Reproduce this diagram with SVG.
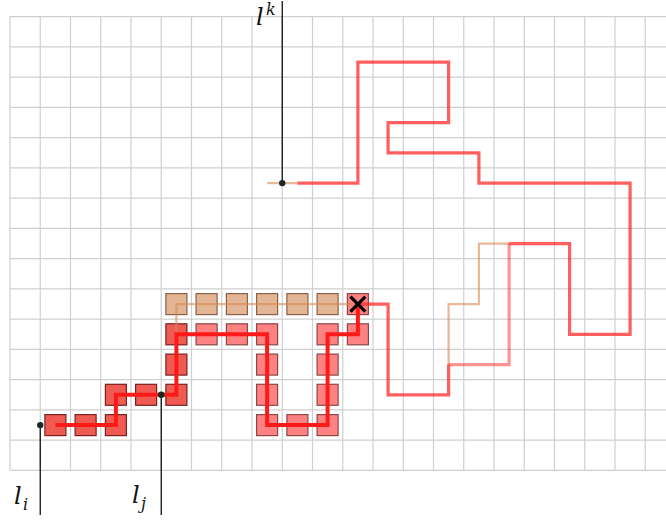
<svg xmlns="http://www.w3.org/2000/svg" width="666" height="523" viewBox="0 0 666 523">
<style>
.grid{stroke:#cfcfcf;stroke-width:1.2;fill:none}
.sq{stroke-width:1.2}
.dark{fill:#ee5b52;stroke:#7a2020}
.pink{fill:#ff8282;stroke:#8c4646}
.tan{fill:#e2b595;stroke:#8a6048}
.red{fill:none;stroke:#ff1a1a;stroke-width:4;stroke-linejoin:miter}
.kred{fill:none;stroke:#ff2a2a;stroke-opacity:0.75;stroke-width:3.2}
.klight{fill:none;stroke:#ff2a2a;stroke-opacity:0.5;stroke-width:3.2}
.orange{fill:none;stroke:#d98a55;stroke-opacity:0.6;stroke-width:2.2}
.lbl{font-family:"DejaVu Serif","Liberation Serif",serif;font-style:italic;fill:#111}
.ptr{stroke:#111;stroke-width:1.3}
</style>
<defs>
<rect id="s" x="-10.5" y="-10.5" width="21" height="21"/>
</defs>
<rect width="666" height="523" fill="#fff"/>
<g id="grid" class="grid">
<path d="M10,16.7V470.45M40.25,16.7V470.45M70.5,16.7V470.45M100.75,16.7V470.45M131,16.7V470.45M161.25,16.7V470.45M191.5,16.7V470.45M221.75,16.7V470.45M252,16.7V470.45M282.25,16.7V470.45M312.5,16.7V470.45M342.75,16.7V470.45M373,16.7V470.45M403.25,16.7V470.45M433.5,16.7V470.45M463.75,16.7V470.45M494,16.7V470.45M524.25,16.7V470.45M554.5,16.7V470.45M584.75,16.7V470.45M615,16.7V470.45M645.25,16.7V470.45"/>
<path d="M10,16.7H666M10,46.95H666M10,77.2H666M10,107.45H666M10,137.7H666M10,167.95H666M10,198.2H666M10,228.45H666M10,258.7H666M10,288.95H666M10,319.2H666M10,349.45H666M10,379.7H666M10,409.95H666M10,440.2H666M10,470.45H666"/>
</g>
<g id="squares-dark" class="sq dark">
<use href="#s" x="55.4" y="425.1"/>
<use href="#s" x="85.6" y="425.1"/>
<use href="#s" x="115.9" y="425.1"/>
<use href="#s" x="115.9" y="394.8"/>
<use href="#s" x="146.1" y="394.8"/>
<use href="#s" x="176.4" y="394.8"/>
<use href="#s" x="176.4" y="364.6"/>
<use href="#s" x="176.4" y="334.3"/>
</g>
<g id="squares-pink" class="sq pink">
<use href="#s" x="206.6" y="334.3"/>
<use href="#s" x="236.9" y="334.3"/>
<use href="#s" x="267.1" y="334.3"/>
<use href="#s" x="267.1" y="364.6"/>
<use href="#s" x="267.1" y="394.8"/>
<use href="#s" x="267.1" y="425.1"/>
<use href="#s" x="297.4" y="425.1"/>
<use href="#s" x="327.6" y="425.1"/>
<use href="#s" x="327.6" y="394.8"/>
<use href="#s" x="327.6" y="364.6"/>
<use href="#s" x="327.6" y="334.3"/>
<use href="#s" x="357.9" y="334.3"/>
<use href="#s" x="357.9" y="304.1"/>
</g>
<g id="squares-tan" class="sq tan">
<use href="#s" x="176.4" y="304.1"/>
<use href="#s" x="206.6" y="304.1"/>
<use href="#s" x="236.9" y="304.1"/>
<use href="#s" x="267.1" y="304.1"/>
<use href="#s" x="297.4" y="304.1"/>
<use href="#s" x="327.6" y="304.1"/>
</g>
<g id="connectors">
<path class="orange" d="M176.4,334.3V304.1H357.9"/>
<path class="orange" d="M448.6,364.6V304.1H478.9V243.6H509.1"/>
<path class="orange" d="M267.1,183.1H297.4" stroke-width="3"/>
<path class="kred" d="M297.4,183.1H357.9V62.1H448.6V122.6H388.1V152.8H478.9V183.1H630.1V334.3H569.6V243.6H509.1"/>
<path class="klight" d="M509.1,243.6V364.6H448.6"/>
<path class="kred" d="M448.6,364.6V394.8H388.1V304.1H357.9"/>
<path class="red" d="M55.4,425.1H115.9V394.8H176.4V334.3H267.1V425.1H327.6V334.3H357.9V304.1"/>
</g>
<g id="cross" stroke="#000" stroke-width="3.2">
<path d="M350.4,296.6L365.4,311.6M365.4,296.6L350.4,311.6"/>
</g>
<g id="li">
<line class="ptr" x1="40.25" y1="425.1" x2="40.25" y2="515"/>
<circle cx="40.25" cy="425.1" r="3.2" fill="#1a2a22"/>
<text class="lbl" x="14" y="504" font-size="24">l</text>
<text class="lbl" x="23" y="510" font-size="16">i</text>
</g>
<g id="lj">
<line class="ptr" x1="161.25" y1="394.8" x2="161.25" y2="515"/>
<circle cx="161.25" cy="394.8" r="3.2" fill="#1a2a22"/>
<text class="lbl" x="132" y="503" font-size="24">l</text>
<text class="lbl" x="141" y="509" font-size="16">j</text>
</g>
<g id="lk">
<line class="ptr" x1="282.25" y1="1" x2="282.25" y2="183.1"/>
<circle cx="282.25" cy="183.1" r="3.2" fill="#1a2a22"/>
<text class="lbl" x="256" y="25" font-size="24">l</text>
<text class="lbl" x="266" y="15" font-size="16">k</text>
</g>
</svg>
